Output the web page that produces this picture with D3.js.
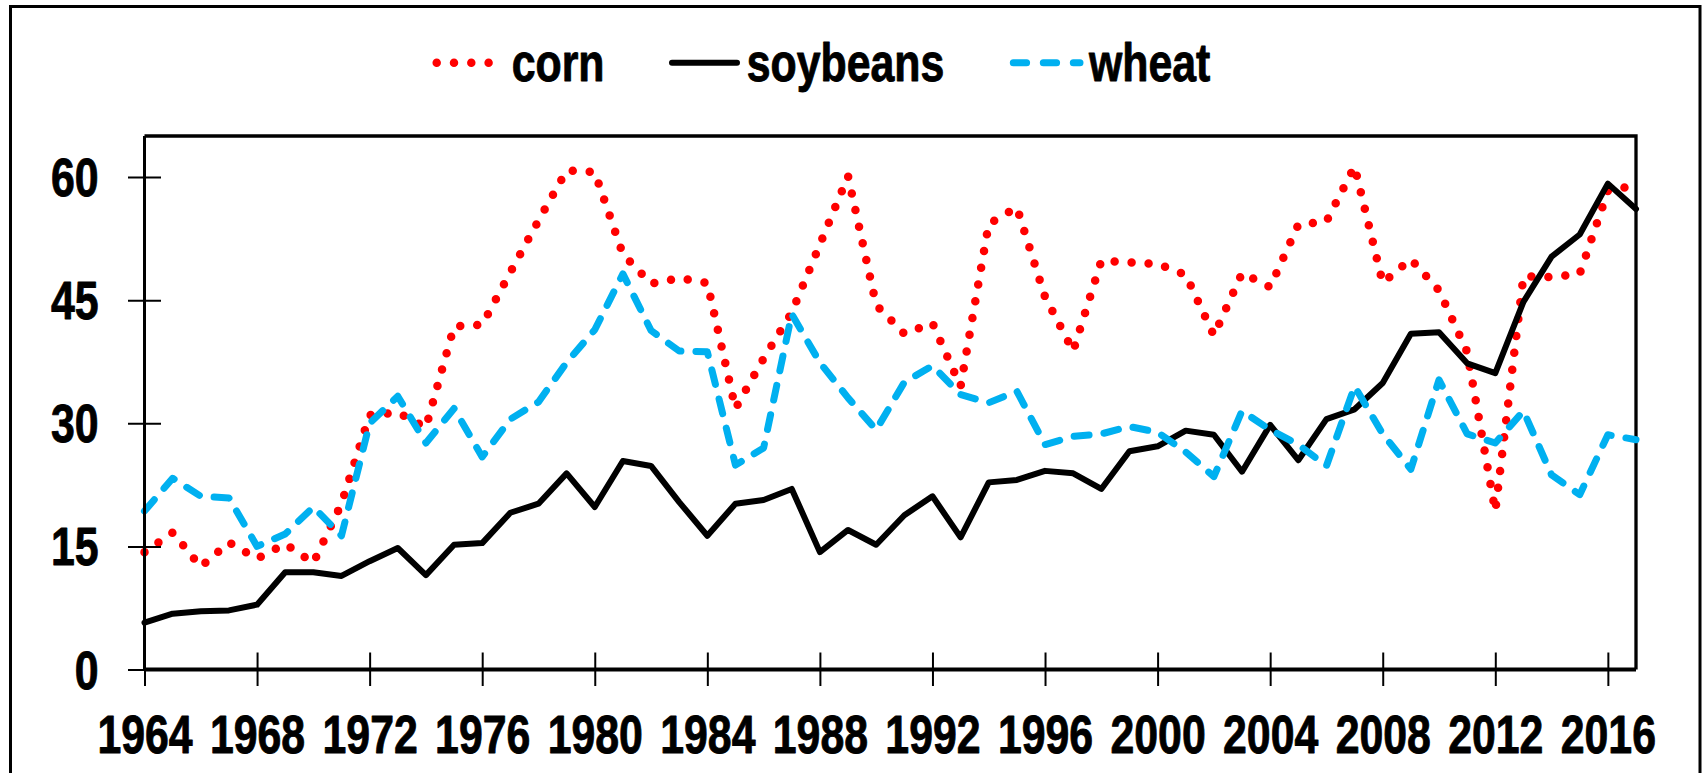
<!DOCTYPE html>
<html><head><meta charset="utf-8">
<script src="https://cdn.jsdelivr.net/npm/d3@7"></script>
<style>html,body{margin:0;padding:0;background:#fff;overflow:hidden}</style>
</head><body>
<svg id="chart" width="1702" height="773"></svg>
<script>
const years = [1964,1965,1966,1967,1968,1969,1970,1971,1972,1973,1974,1975,1976,1977,1978,1979,
  1980,1981,1982,1983,1984,1985,1986,1987,1988,1989,1990,1991,1992,1993,1994,1995,1996,1997,1998,1999,
  2000,2001,2002,2003,2004,2005,2006,2007,2008,2009,2010,2011,2012,2013,2014,2015,2016,2017];
const corn = [14.3,16.7,12.5,15.5,13.5,15.3,13.0,20.2,31.0,31.3,29.5,41.8,42.0,48.4,54.7,60.8,
  60.6,50.6,47.0,47.7,47.1,31.8,37.9,43.5,51.8,60.1,44.4,40.9,42.2,34.5,54.3,56.3,45.4,38.8,49.8,49.6,
  49.4,48.1,40.7,48.3,46.6,54.2,54.6,61.3,47.1,50.0,46.2,38.7,19.3,47.9,47.8,48.2,58.3,59.0];
const soybeans = [5.7,6.8,7.1,7.2,7.9,11.85,11.85,11.4,13.2,14.8,11.5,15.2,15.4,19.1,20.2,23.9,
  19.8,25.4,24.8,20.4,16.3,20.2,20.65,22.0,14.3,17.0,15.2,18.8,21.1,16.1,22.8,23.1,24.2,23.9,22.0,26.6,
  27.2,29.1,28.6,24.1,29.8,25.5,30.5,31.7,34.9,40.9,41.1,37.3,36.1,44.8,50.3,53.0,59.2,56.1];
const wheat = [19.3,23.3,21.1,20.9,15.0,16.5,19.8,16.3,30.0,33.3,27.6,31.8,25.9,30.5,32.6,37.4,
  41.4,48.2,41.3,38.8,38.7,24.9,27.0,43.3,37.4,33.1,29.2,35.0,37.0,33.5,32.5,33.9,27.4,28.4,28.7,29.6,
  28.9,26.5,23.5,31.5,29.2,27.4,24.8,34.5,28.7,24.4,35.3,28.7,27.6,31.5,23.7,21.3,28.6,28.0];
const xTickValues = [1964,1968,1972,1976,1980,1984,1988,1992,1996,2000,2004,2008,2012,2016];
const yTickValues = [0,15,30,45,60];
const seriesNames = ["corn","soybeans","wheat"];

const FONT = "'Liberation Sans',Arial,sans-serif";
const FS = 53.5;
const SX = 0.8; // horizontal condensing (narrow bold look)
const svg = d3.select('#chart');

// outer chart border
svg.append('rect').attr('x',10.5).attr('y',6.5).attr('width',1689.5).attr('height',830)
  .attr('fill','#fff').attr('stroke','#000').attr('stroke-width',3);

const plot = {left:144.5, right:1636, top:136, bottom:669.5};
const x = d3.scaleLinear().domain([1964,2017]).range([plot.left, plot.right]);
const y = d3.scaleLinear().domain([0,65]).range([plot.bottom, plot.top]);

// plot frame (top + right)
svg.append('path').attr('d',`M${plot.left},${plot.top}H${plot.right}V${plot.bottom}`)
  .attr('fill','none').attr('stroke','#000').attr('stroke-width',3.3);

const styles = {
  corn: {color:'#FF0000', width:8.5, dash:'0 17'},
  soybeans: {color:'#000000', width:6, dash:null},
  wheat: {color:'#00B0F0', width:7, dash:'15 15'}
};
const data = {corn, soybeans, wheat};

const line = d3.line().x((d,i)=>x(years[i])).y(d=>y(d));
seriesNames.forEach(name=>{
  const s = styles[name];
  const p = svg.append('path').datum(data[name]).attr('d',line)
    .attr('fill','none').attr('stroke',s.color).attr('stroke-width',s.width)
    .attr('stroke-linejoin','round').attr('stroke-linecap','round');
  if (s.dash) p.attr('stroke-dasharray',s.dash);
});

function styleText(sel){
  sel.style('font-family',FONT).attr('font-weight','bold').attr('font-size',FS)
    .attr('fill','#000').attr('stroke','#000').attr('stroke-width',0.9).attr('stroke-linejoin','round');
}

// x axis
const gx = svg.append('g').attr('transform',`translate(0,${plot.bottom})`)
  .call(d3.axisBottom(x).tickValues(xTickValues).tickFormat(d3.format('d')).tickSize(0));
gx.select('.domain').attr('d',`M${plot.left},0H${plot.right}`).attr('stroke','#000').attr('stroke-width',4);
gx.selectAll('.tick line').attr('y1',-17).attr('y2',16.5).attr('stroke','#000').attr('stroke-width',2);
gx.selectAll('.tick text').attr('x',0).attr('y',84).attr('dy',0)
  .attr('transform',`scale(${SX},1)`).call(styleText);

// y axis
const gy = svg.append('g').attr('transform',`translate(${plot.left},0)`)
  .call(d3.axisLeft(y).tickValues(yTickValues).tickSize(0));
gy.select('.domain').attr('d',`M0,${plot.top}V${plot.bottom}`).attr('stroke','#000').attr('stroke-width',3);
gy.selectAll('.tick line').attr('x1',-16.5).attr('x2',d=>d===0?0:16.5).attr('stroke','#000').attr('stroke-width',2);
gy.selectAll('.tick text').attr('x',-46/SX).attr('dy',18.5)
  .attr('transform',`scale(${SX},1)`).call(styleText);

// legend
const legendItems = [
  {name:'corn', x1:436.7, x2:495, tx:511.7, dash:'0 17.3'},
  {name:'soybeans', x1:672, x2:737, tx:746.8, dash:null},
  {name:'wheat', x1:1013.3, x2:1080, tx:1089, dash:'13.3 16.7'}
];
const ly = 62.7;
const lg = svg.append('g');
legendItems.forEach(it=>{
  const s = styles[it.name];
  const l = lg.append('line').attr('x1',it.x1).attr('x2',it.x2).attr('y1',ly).attr('y2',ly)
    .attr('stroke',s.color).attr('stroke-width',s.width).attr('stroke-linecap','round');
  if (it.dash) l.attr('stroke-dasharray',it.dash);
  lg.append('text').attr('transform',`translate(${it.tx},80.7) scale(${SX},1)`).text(it.name)
    .call(styleText);
});
</script>
</body></html>
